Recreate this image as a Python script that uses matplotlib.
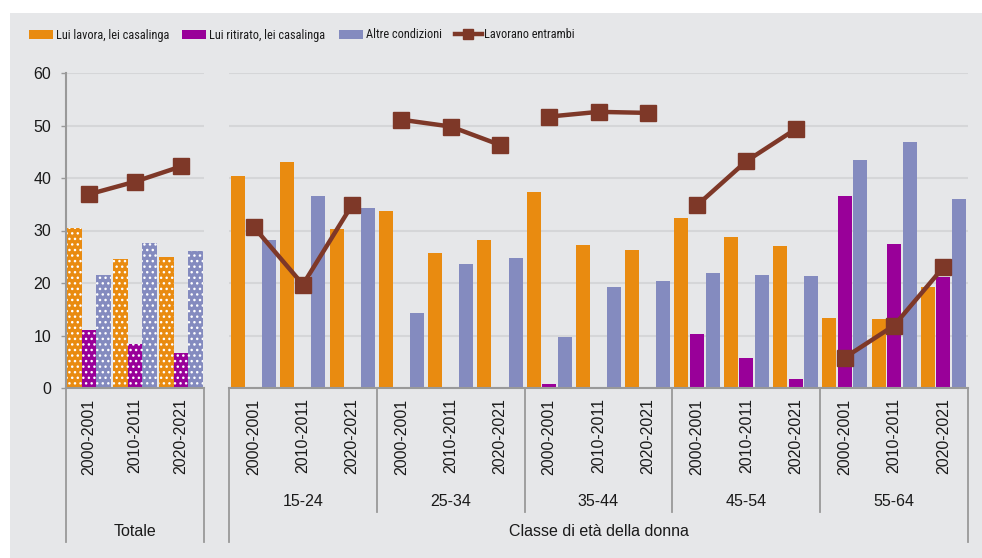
import matplotlib
matplotlib.use("Agg")
import matplotlib.pyplot as plt
import matplotlib.font_manager as fm
from matplotlib.patches import Rectangle, Patch
from matplotlib.lines import Line2D
import numpy as np

# ---------------- data ----------------
years = ["2000-2001", "2010-2011", "2020-2021"]
age_groups = ["15-24", "25-34", "35-44", "45-54", "55-64"]
series_names = ["Lui lavora, lei casalinga", "Lui ritirato, lei casalinga",
                "Altre condizioni", "Lavorano entrambi"]

tot_lavora = [30.4, 24.6, 25.0]
tot_ritirato = [11.0, 8.4, 6.7]
tot_altre = [21.5, 27.6, 26.1]
tot_entrambi = [36.9, 39.3, 42.2]

lavora = [40.3, 43.0, 30.2, 33.8, 25.8, 28.2, 37.3, 27.3, 26.3,
          32.3, 28.8, 27.1, 13.3, 13.1, 19.2]
ritirato = [0.2, 0.0, 0.0, 0.0, 0.0, 0.0, 0.7, 0.2, 0.0,
            10.3, 5.7, 1.7, 36.6, 27.4, 21.1]
altre = [28.1, 36.6, 34.3, 14.3, 23.7, 24.7, 9.7, 19.2, 20.4,
         21.9, 21.5, 21.3, 43.5, 46.8, 36.0]
entrambi = [30.7, 19.7, 34.9, 51.1, 49.8, 46.3, 51.7, 52.6, 52.4,
            34.8, 43.2, 49.3, 5.8, 11.9, 23.0]

yticks = [0, 10, 20, 30, 40, 50, 60]
group_label = "Totale"
axis_title = "Classe di età della donna"

# ---------------- style ----------------
C_OR = "#E98B10"
C_PU = "#990099"
C_BL = "#848BBF"
C_LN = "#7E3828"
BG = "#E6E7E9"
GRID = "#D5D6D8"
SPINE = "#999999"
TXT = "#1A1A1A"

names = {f.name for f in fm.fontManager.ttflist}
BASE = "Liberation Sans" if "Liberation Sans" in names else "DejaVu Sans"

# look for a condensed / narrow sans face for the legend
leg_prop = None
pref = ["Liberation Sans Narrow", "Arial Narrow", "Roboto Condensed",
        "Open Sans Condensed", "Noto Sans Condensed"]
for p in pref:
    for f in fm.fontManager.ttflist:
        if f.name == p and f.weight in (400, "normal", "regular") and f.style == "normal":
            leg_prop = fm.FontProperties(fname=f.fname, size=8.8)
            break
    if leg_prop is not None:
        break
if leg_prop is None:
    for f in fm.fontManager.ttflist:
        st = str(f.stretch).lower()
        if ("condensed" in st or "narrow" in st) \
                and f.style == "normal" and f.weight in (400, "normal", "regular") \
                and "Mono" not in f.name and "Serif" not in f.name:
            leg_prop = fm.FontProperties(fname=f.fname, size=8.2)
            break
if leg_prop is None:
    leg_prop = fm.FontProperties(family=BASE, size=7.8)
LEG_SIZE = leg_prop.get_size_in_points()

plt.rcParams["font.family"] = [BASE, "DejaVu Sans"]
plt.rcParams["hatch.color"] = "white"
plt.rcParams["hatch.linewidth"] = 1.0
FS = 11.5

W, H = 982, 558
fig = plt.figure(figsize=(W / 100, H / 100), dpi=100, facecolor="white")
fig.patches.append(Rectangle((10 / W, 0), 1 - 10 / W, 1 - 13 / H,
                             transform=fig.transFigure, facecolor=BG,
                             edgecolor="none", zorder=-10))

def fx(px):
    return px / W

def fy(py):
    return 1 - py / H

y0, y60 = 388, 73
ax1 = fig.add_axes([fx(66), fy(y0), fx(204) - fx(66), fy(y60) - fy(y0)])
ax2 = fig.add_axes([fx(229), fy(y0), fx(968) - fx(229), fy(y60) - fy(y0)])

for ax in (ax1, ax2):
    ax.set_facecolor("none")
    ax.set_ylim(0, 60)
    ax.set_yticks(yticks)
    ax.grid(axis="y", color=GRID, linewidth=1.5, zorder=0)
    ax.set_axisbelow(True)
    for s in ("top", "right"):
        ax.spines[s].set_visible(False)
    ax.spines["bottom"].set_color(SPINE)
    ax.spines["bottom"].set_linewidth(1.5)
    ax.spines["bottom"].set_zorder(5)
    ax.tick_params(axis="x", length=0, pad=7.5, labelsize=FS, labelcolor=TXT)

ax1.spines["left"].set_color(SPINE)
ax1.spines["left"].set_linewidth(1.5)
ax1.tick_params(axis="y", length=3.6, width=1, color=SPINE, pad=7,
                labelsize=FS, labelcolor=TXT)
ax2.spines["left"].set_visible(False)
ax2.tick_params(axis="y", length=0, labelleft=False)

# ---------- left panel: Totale ----------
x1 = np.arange(len(years))
bw1, off1 = 0.32, 0.32
ax1.bar(x1 - off1, tot_lavora, bw1, color=C_OR, edgecolor="white", linewidth=0, hatch="...", zorder=2)
ax1.bar(x1, tot_ritirato, bw1, color=C_PU, edgecolor="white", linewidth=0, hatch="...", zorder=2)
ax1.bar(x1 + off1, tot_altre, bw1, color=C_BL, edgecolor="white", linewidth=0, hatch="...", zorder=2)
ax1.plot(x1, tot_entrambi, color=C_LN, linewidth=3.2, marker="s", markersize=11.3, zorder=4)
ax1.set_xlim(-0.5, len(years) - 0.5)
ax1.set_xticks(x1, years, rotation=90)

# ---------- right panel: age groups ----------
x2 = np.arange(len(age_groups) * len(years))
bw2, off2 = 0.285, 0.316
ax2.bar(x2 - off2, lavora, bw2, color=C_OR, linewidth=0, zorder=2)
ax2.bar(x2, ritirato, bw2, color=C_PU, linewidth=0, zorder=2)
ax2.bar(x2 + off2, altre, bw2, color=C_BL, linewidth=0, zorder=2)
n = len(years)
for g in range(len(age_groups)):
    sl = slice(g * n, g * n + n)
    ax2.plot(x2[sl], entrambi[sl], color=C_LN, linewidth=3.2, marker="s",
             markersize=11.3, zorder=4)
ax2.set_xlim(-0.5, len(x2) - 0.5)
ax2.set_xticks(x2, years * len(age_groups), rotation=90)

# ---------- category boxes below axes ----------
axh = y0 - y60
outer = -(542 - y0) / axh
inner = -(512 - y0) / axh
lvl_group = -(502 - y0) / axh
lvl_title = -(531 - y0) / axh

for xb in (-0.5, len(years) - 0.5):
    ax1.plot([xb, xb], [0, outer], transform=ax1.get_xaxis_transform(),
             color=SPINE, linewidth=1.3, clip_on=False)
ax1.text(np.mean(x1), lvl_title, group_label, transform=ax1.get_xaxis_transform(),
         ha="center", va="center", fontsize=FS, color=TXT)

for g in range(len(age_groups) + 1):
    xb = g * n - 0.5
    bottom = outer if g in (0, len(age_groups)) else inner
    ax2.plot([xb, xb], [0, bottom], transform=ax2.get_xaxis_transform(),
             color=SPINE, linewidth=1.3, clip_on=False)
for g, lab in enumerate(age_groups):
    ax2.text(g * n + (n - 1) / 2, lvl_group, lab, transform=ax2.get_xaxis_transform(),
             ha="center", va="center", fontsize=FS, color=TXT)
ax2.text(0.5, lvl_title, axis_title, transform=ax2.transAxes,
         ha="center", va="center", fontsize=FS, color=TXT)

# ---------- legend (one entry each, placed left to right) ----------
fpx = LEG_SIZE * 100 / 72
handles = [
    Patch(facecolor=C_OR, edgecolor="none"),
    Patch(facecolor=C_PU, edgecolor="none"),
    Patch(facecolor=C_BL, edgecolor="none"),
    Line2D([0], [0], color=C_LN, linewidth=3.2, marker="s", markersize=7),
]
leg_len = [24, 24, 24, 27]
renderer = fig.canvas.get_renderer()
xpos = 29
for h, lab, ln in zip(handles, series_names, leg_len):
    lg = fig.legend([h], [lab], loc="center left", bbox_to_anchor=(fx(xpos), fy(35)),
                    frameon=False, borderpad=0, borderaxespad=0,
                    handlelength=ln / fpx, handleheight=9 / fpx,
                    handletextpad=3 / fpx, prop=leg_prop)
    for t in lg.get_texts():
        t.set_color(TXT)
    bb = lg.get_window_extent(renderer)
    xpos = bb.x1 + 13

fig.savefig("out.png", dpi=100, facecolor="white")
